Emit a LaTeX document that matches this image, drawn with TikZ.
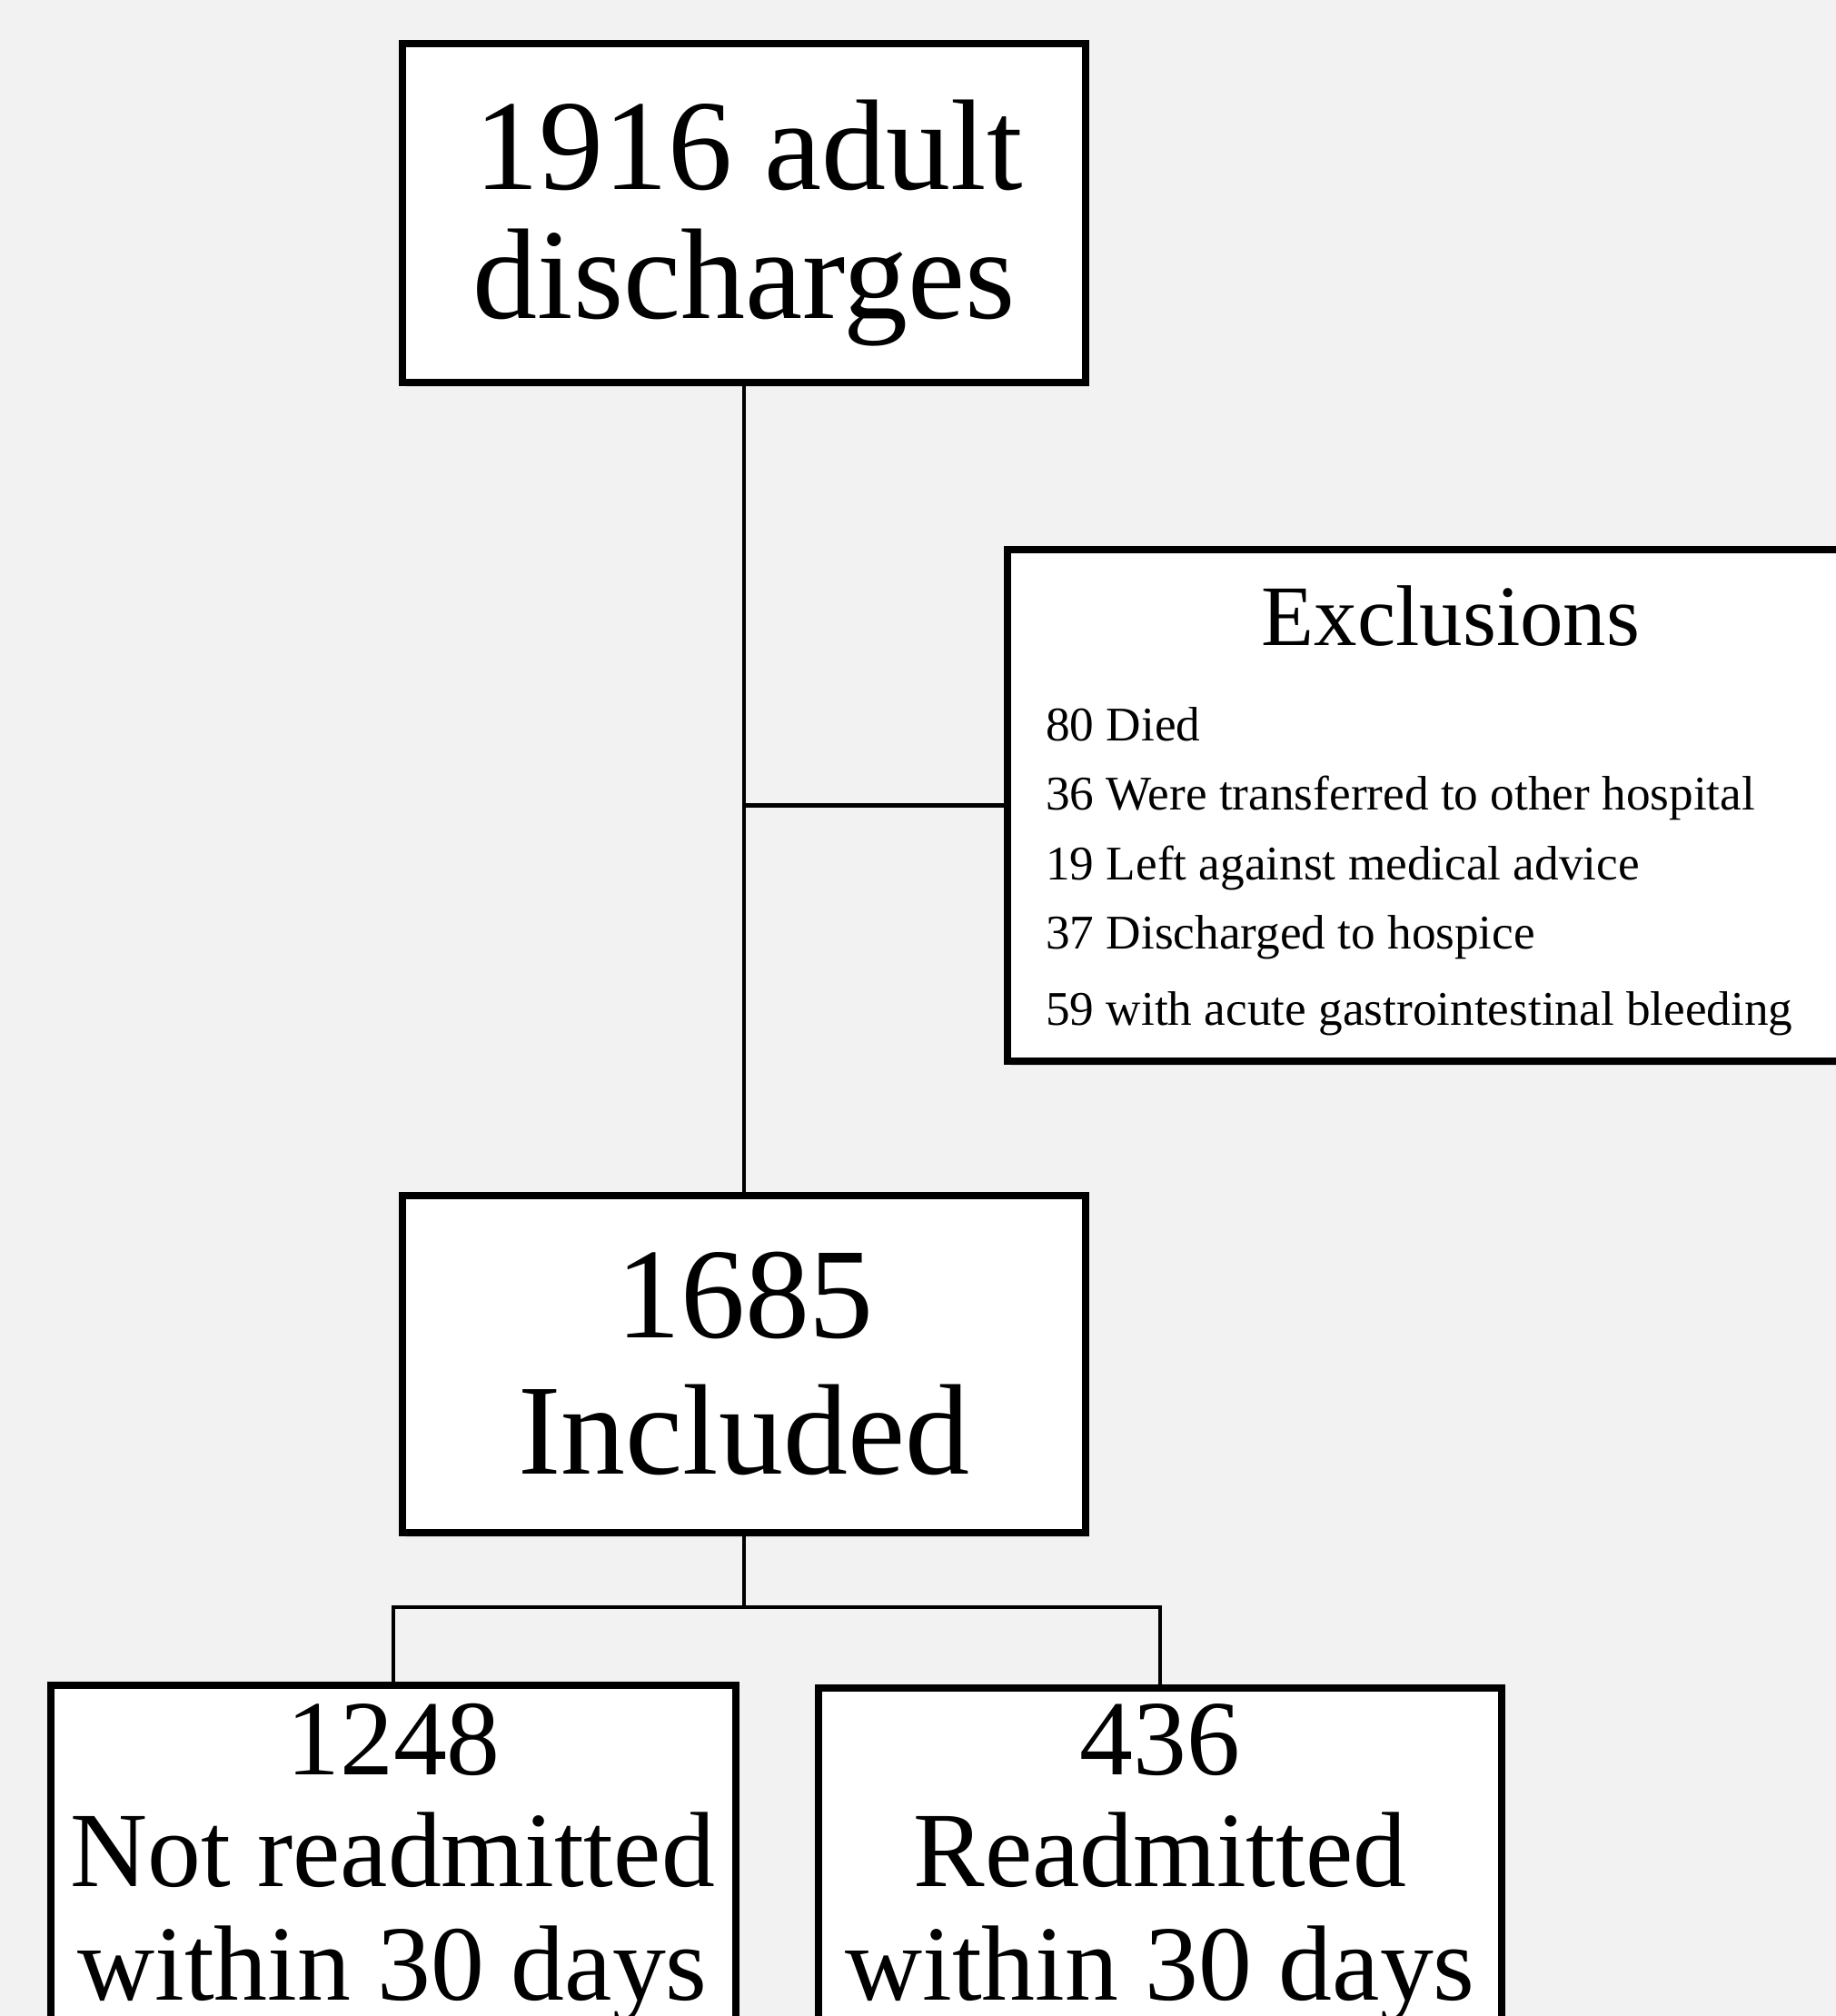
\documentclass[tikz,border=0pt]{standalone}
\usepackage{fontspec}
\setmainfont{Liberation Serif}
\usetikzlibrary{shadows}
\definecolor{bgcol}{RGB}{242,242,242}
\begin{document}
\begin{tikzpicture}[x=1cm,y=1cm,
  box/.style={draw=black, fill=white, line width=2.1pt, rectangle, inner sep=0pt,
    drop shadow={opacity=0.22, shadow xshift=0.035cm, shadow yshift=-0.045cm}},
  link/.style={draw=black, line width=1.15pt},
  bigtxt/.style={font=\fontsize{40.4}{40}\selectfont, anchor=base, inner sep=0pt},
  titletxt/.style={font=\fontsize{27}{27}\selectfont, anchor=base, inner sep=0pt},
  itemtxt/.style={font=\fontsize{15.15}{15}\selectfont, anchor=base west, inner sep=0pt},
  midtxt/.style={font=\fontsize{33.5}{33}\selectfont, anchor=base, inner sep=0pt}
]
\useasboundingbox (0,0) rectangle (20.21,-22.19);
\fill[bgcol] (0,0) rectangle (20.21,-22.19);

% boxes
\node[box, minimum width=7.52cm, minimum height=3.73cm] (top) at (8.19,-2.345) {};
\node[box, minimum width=9.87cm, minimum height=5.63cm] (excl) at (16.025,-8.865) {};
\node[box, minimum width=7.52cm, minimum height=3.71cm] (incl) at (8.19,-15.015) {};
\node[box, minimum width=7.54cm, minimum height=6cm, anchor=north] (notre) at (4.33,-18.5135) {};
\node[box, minimum width=7.52cm, minimum height=6cm, anchor=north] (re) at (12.77,-18.5435) {};

% connectors
\coordinate (j1) at (top.south |- excl.west);
\coordinate (j2) at (8.19,-17.69);
\draw[link] (top.south) -- (incl.north);
\draw[link] (j1) -- (excl.west);
\draw[link] (incl.south) -- (j2);
\draw[link] (notre.north) |- (j2) -| (re.north);

% texts
\node[bigtxt] (t1) at (8.24,-2.08) {1916 adult};
\node[bigtxt] (t2) at (8.19,-3.50) {discharges};
\node[titletxt] (e0) at (15.97,-7.105) {Exclusions};
\node[itemtxt] (e1) at (11.506,-8.15) {80 Died};
\node[itemtxt] (e2) at (11.506,-8.916) {36 Were transferred to other hospital};
\node[itemtxt] (e3) at (11.506,-9.68) {19 Left against medical advice};
\node[itemtxt] (e4) at (11.506,-10.445) {37 Discharged to hospice};
\node[itemtxt] (e5) at (11.506,-11.28) {59 with acute gastrointestinal bleeding};
\node[bigtxt] (i1) at (8.20,-14.72) {1685};
\node[bigtxt] (i2) at (8.19,-16.22) {Included};
\node[midtxt] (n1) at (4.33,-19.53) {1248};
\node[midtxt] (n2) at (4.32,-20.76) {Not readmitted};
\node[midtxt] (n3) at (4.32,-22.01) {within 30 days};
\node[midtxt] (r1) at (12.77,-19.53) {436};
\node[midtxt] (r2) at (12.77,-20.76) {Readmitted};
\node[midtxt] (r3) at (12.77,-22.01) {within 30 days};
\end{tikzpicture}
\end{document}
